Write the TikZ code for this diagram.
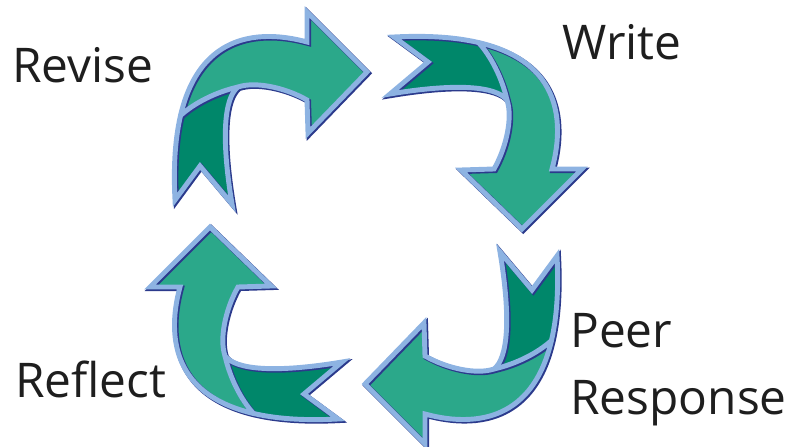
\documentclass[tikz,border=0pt]{standalone}
\usepackage{fontspec}
\newfontfamily\stagefont{Open Sans}
\definecolor{leafgreen}{HTML}{2BA88A}
\definecolor{deepgreen}{HTML}{00876A}
\definecolor{rimblue}{HTML}{8DB3E2}
\definecolor{rimnavy}{HTML}{2B3A8C}
\definecolor{inkgrey}{HTML}{1E1E1E}
\tikzset{
  stage/.style={font=\stagefont\fontsize{34}{48}\selectfont,text=inkgrey,inner sep=0pt,anchor=base west},
  rim/.style={draw=rimblue,line width=3.5pt,line join=miter},
  rimshade/.style={draw=rimnavy,line width=3.9pt,line join=miter}
}
\newcommand\bendarrow{(-191,28) -- (-166,62) -- (-134,24) .. controls (-145,90) and (-142,130) .. (-128,141) .. controls (-110,147) and (-80,140) .. (-59,128) -- (-58,95) -- (1,156) -- (-59,216) -- (-59,186) .. controls (-110,200) and (-200,200) .. (-191,28) -- cycle}
\newcommand\bendfold{(-128,141) .. controls (-150,136) and (-172,125) .. (-186,112)}
\newcommand\cyclearrow[1]{%
  \begin{scope}[shift={(366,219)},rotate=#1]
    \fill[leafgreen] \bendarrow;
    \begin{scope}\clip \bendarrow;
      \fill[deepgreen] (-128,141) .. controls (-150,136) and (-172,125) .. (-186,112) -- (-230,90) -- (-230,0) -- (-125,0) -- cycle;
    \end{scope}
  \end{scope}
  \begin{scope}[shift={(367.3,217.7)},rotate=#1]
    \draw[rimshade] \bendarrow; \draw[rimshade] \bendfold;
  \end{scope}
  \begin{scope}[shift={(366,219)},rotate=#1]
    \draw[rim] \bendarrow; \draw[rim] \bendfold;
  \end{scope}}
\begin{document}
\begin{tikzpicture}[x=0.025cm,y=0.025cm]
\useasboundingbox (0,0) rectangle (790,447);
\cyclearrow{0}\cyclearrow{-90}\cyclearrow{-180}\cyclearrow{-270}
\node[stage] (revise) at(12,364) {Revise};
\node[stage] (write) at(562,387) {Write};
\node[stage,align=left] (peer) at(570,32) {Peer\\Response};
\node[stage] (reflect) at(15,49) {Reflect};
\end{tikzpicture}
\end{document}
